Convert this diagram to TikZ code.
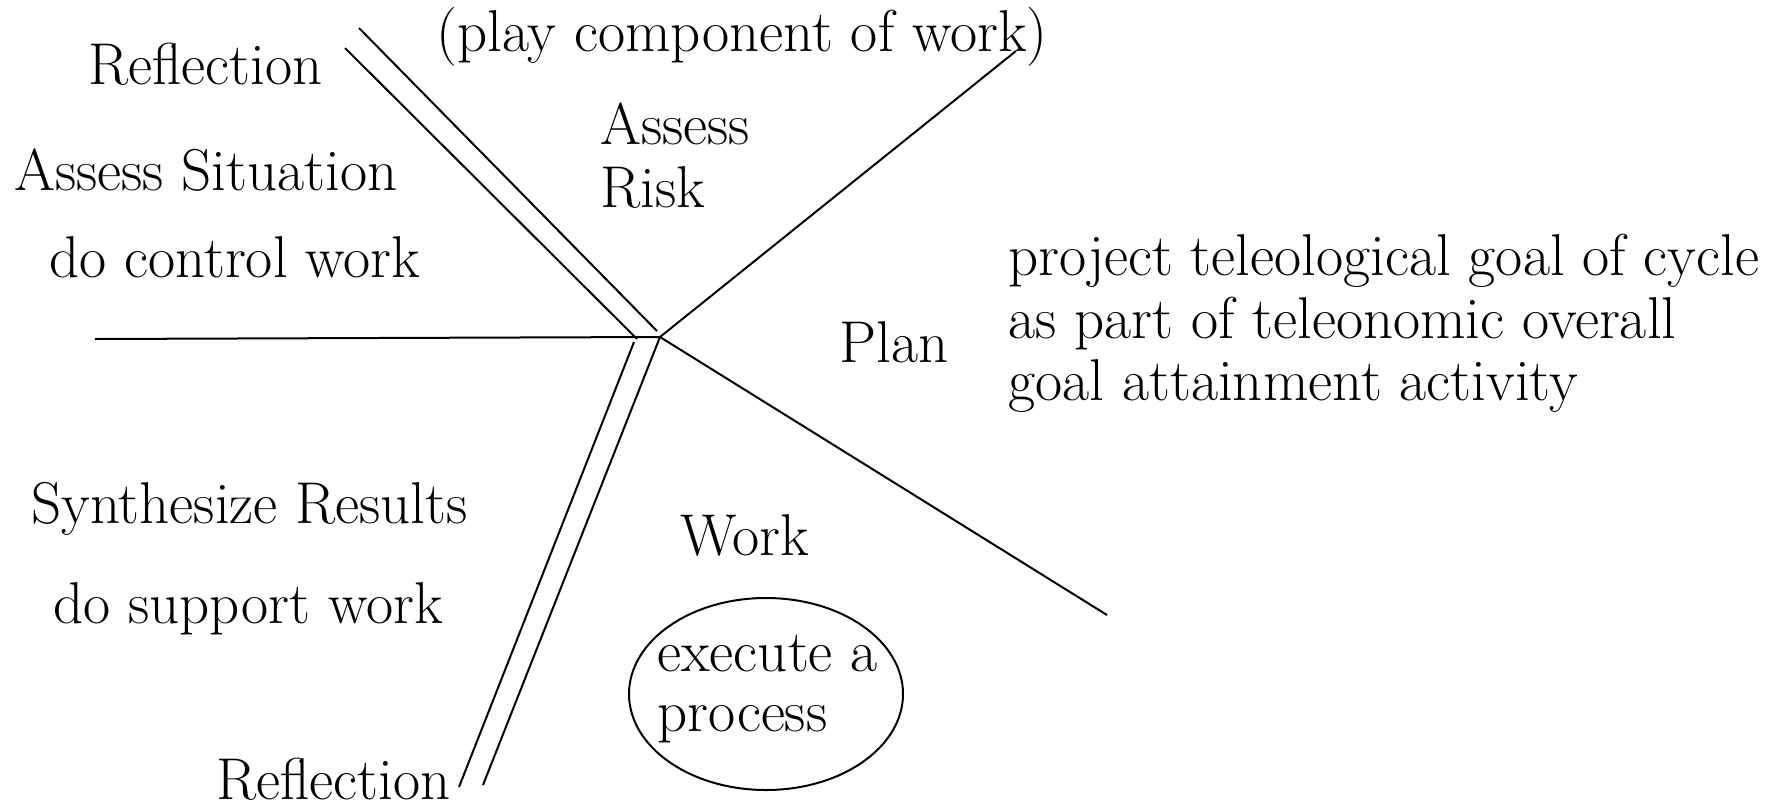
\documentclass[tikz,border=0pt]{standalone}
\usetikzlibrary{shapes.geometric}
\begin{document}
\begin{tikzpicture}[x=0.5pt,y=-0.5pt,
  lbl/.style={anchor=base west,inner sep=0pt,font=\fontsize{29.5}{31}\selectfont},
  ln/.style={line width=1pt}]
\useasboundingbox (0,0) rectangle (1776,803);
% coordinates
\coordinate (C) at (660,337);
\coordinate (HL) at (95,339);
\coordinate (UR) at (1016,51);
\coordinate (LR) at (1107,615);
\coordinate (A1) at (345,48);
\coordinate (A2) at (637,339);
\coordinate (B1) at (359,28);
\coordinate (B2) at (657,331);
\coordinate (C1) at (634,342);
\coordinate (C2) at (459,787);
\coordinate (D2) at (483,785);
% lines
\draw[ln] (HL) -- (C);
\draw[ln] (C) -- (UR);
\draw[ln] (C) -- (LR);
\draw[ln] (A1) -- (A2);
\draw[ln] (B1) -- (B2);
\draw[ln] (C1) -- (C2);
\draw[ln] (C) -- (D2);
% texts
\node[lbl] (refl1) at (88,84) {Reflection};
\node[lbl] (play) at (436,51) {(play component of work)};
\node[lbl] (assess) at (600,144) {Assess};
\node[lbl] (risk) at (600,207) {Risk};
\node[lbl] (sit) at (14,190) {Assess Situation};
\node[lbl] (ctrl) at (49,277) {do control work};
\node[lbl] (p1) at (1008,275) {project teleological goal of cycle};
\node[lbl] (p2) at (1008,338) {as part of teleonomic overall};
\node[lbl] (p3) at (1008,400) {goal attainment activity};
\node[lbl] (plan) at (839,362) {Plan};
\node[lbl] (synth) at (31,523) {Synthesize Results};
\node[lbl] (supp) at (53,623) {do support work};
\node[lbl] (work) at (680,555) {Work};
\node[draw,ellipse,line width=1pt,minimum width=137pt,minimum height=96pt,inner sep=0pt] (ell) at (766,694) {};
\node[lbl] (ex1) at (657,671) {execute a};
\node[lbl] (ex2) at (657,731) {process};
\node[lbl] (refl2) at (216,799) {Reflection};
\end{tikzpicture}
\end{document}
